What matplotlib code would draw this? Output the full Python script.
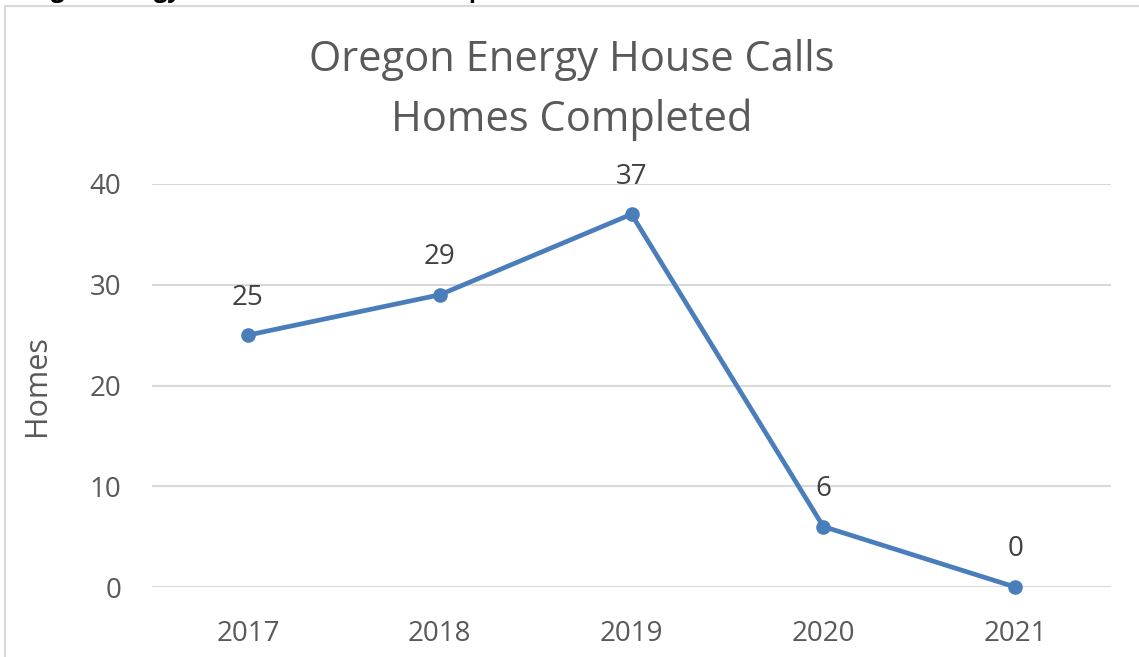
import matplotlib.pyplot as plt
from matplotlib.patches import Rectangle

years = ['2017', '2018', '2019', '2020', '2021']
homes = [25, 29, 37, 6, 0]
yticks = [0, 10, 20, 30, 40]

plt.rcParams['font.family'] = ['Open Sans', 'DejaVu Sans']

fig = plt.figure(figsize=(11.39, 6.57), dpi=100)
ax = fig.add_axes([152 / 1139, 70 / 657, 959 / 1139, 403 / 657])

x = list(range(len(years)))
ax.plot(x, homes, color='#4A7EBB', lw=3.4, marker='o', ms=9.5,
        solid_capstyle='round', zorder=3, clip_on=False)
for xi, v in zip(x, homes):
    ax.annotate(str(v), (xi, v), xytext=(0, 17), textcoords='offset points',
                ha='center', va='bottom', fontsize=20, color='#404040')

ax.set_xlim(-0.5, 4.5)
ax.set_ylim(0, 40)
ax.set_xticks(x)
ax.set_xticklabels(years)
ax.set_yticks(yticks)
ax.tick_params(axis='both', length=0, labelsize=20, labelcolor='#595959')
ax.tick_params(axis='x', pad=24)
ax.tick_params(axis='y', pad=22)
ax.grid(axis='y', color='#D9D9D9', lw=1.5)
ax.set_axisbelow(True)
for s in ax.spines.values():
    s.set_visible(False)
ax.set_ylabel('Homes', fontsize=22, color='#595959', labelpad=27)

fig.text(0.502, 1 - 90 / 657, 'Oregon Energy House Calls\nHomes Completed',
         ha='center', va='center', fontsize=30, color='#595959', linespacing=1.52)

# chart frame
fig.patches.append(Rectangle((5 / 1139, -0.1), 1.2, 1 - 6 / 657 + 0.1,
                             transform=fig.transFigure, fill=False,
                             edgecolor='#D9D9D9', lw=1.5))
# caption above the chart, mostly cut off
fig.text(8 / 1139, 1 + 3 / 657, 'Oregon Energy House Calls Homes Completed 2017-2021',
         ha='left', va='baseline', fontsize=17, fontweight='bold', color='black')

fig.savefig('out.png', dpi=100)
